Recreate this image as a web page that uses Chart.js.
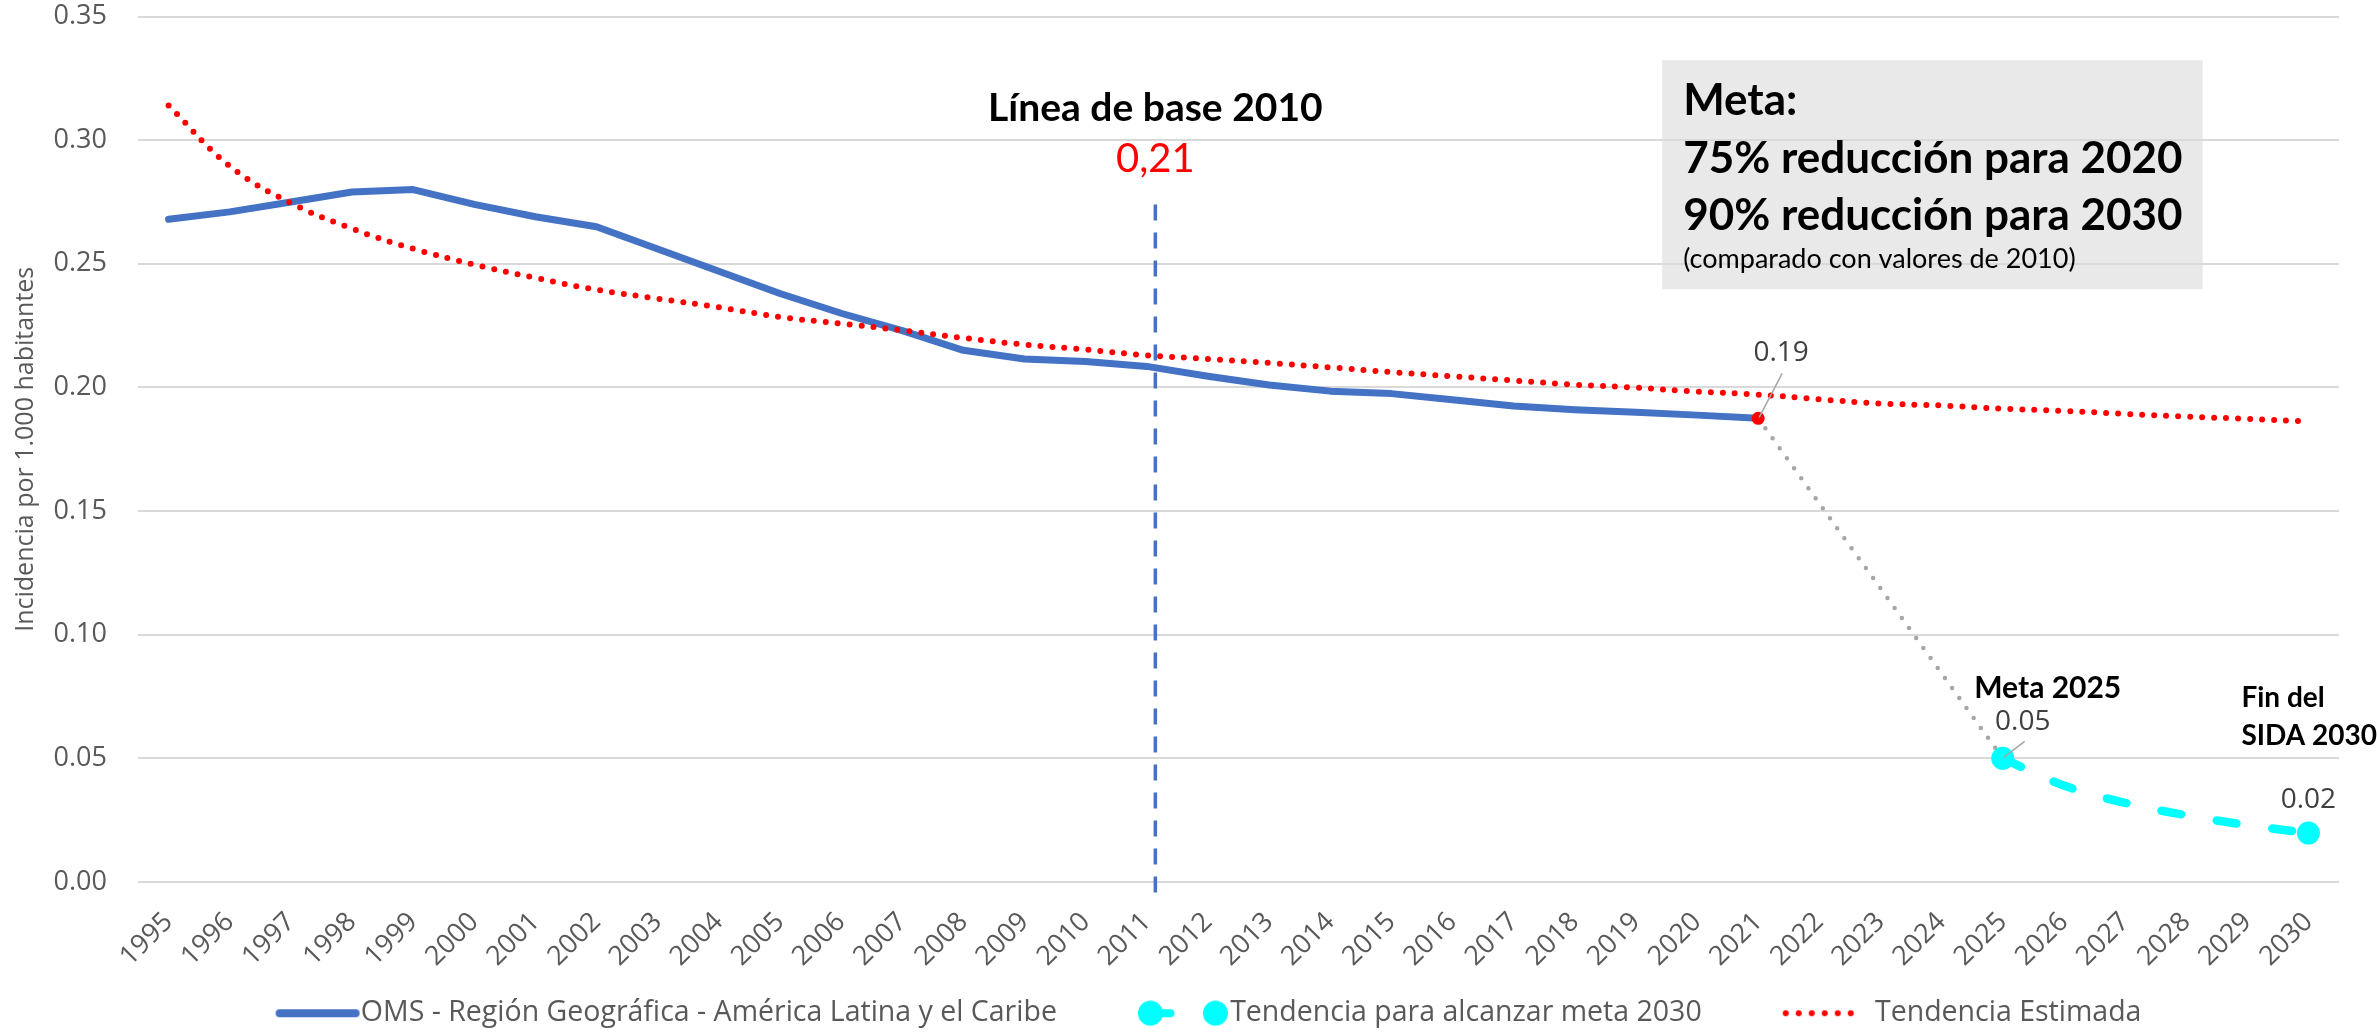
<!DOCTYPE html>
<html><head><meta charset="utf-8">
<script src="https://cdn.jsdelivr.net/npm/chart.js@4.4.1/dist/chart.umd.min.js"></script>
<style>html,body{margin:0;padding:0;background:#fff;overflow:hidden}canvas{display:block}</style>
</head><body>
<canvas id="c" width="2377" height="1034"></canvas>
<script>
// ---------- DATA ----------
const years = ['1995','1996','1997','1998','1999','2000','2001','2002','2003','2004','2005','2006',
  '2007','2008','2009','2010','2011','2012','2013','2014','2015','2016','2017','2018','2019','2020',
  '2021','2022','2023','2024','2025','2026','2027','2028','2029','2030'];

const omsLabel = 'OMS - Región Geográfica - América Latina y el Caribe';
const omsValues = [0.268, 0.271, 0.275, 0.279, 0.280, 0.274, 0.269, 0.265, 0.256, 0.247, 0.238, 0.230,
  0.223, 0.215, 0.2115, 0.2105, 0.2085, 0.2045, 0.201, 0.1985, 0.1975, 0.195, 0.1925, 0.191, 0.190, 0.1888,
  0.1875];

const targetLabel = 'Tendencia para alcanzar meta 2030';
const targetValues = [null,null,null,null,null,null,null,null,null,null,null,null,null,null,null,
  null,null,null,null,null,null,null,null,null,null,null,null,null,null,null,
  0.05, 0.039, 0.032, 0.027, 0.023, 0.0198];

const trendLabel = 'Tendencia Estimada';
const trendValues = [0.314, 0.2895, 0.2746, 0.2642, 0.2561, 0.2497, 0.2443, 0.2395, 0.2359, 0.2324,
  0.2285, 0.2258, 0.2231, 0.2200, 0.2173, 0.2153, 0.2130, 0.2115, 0.2099, 0.2081, 0.2062, 0.2045,
  0.2028, 0.2011, 0.1999, 0.1983, 0.1971, 0.1952, 0.1935, 0.1927, 0.1914, 0.1905, 0.1893, 0.1882,
  0.1873, 0.1862];

// grey bridge from last observed value to the 2025 goal
const bridgeValues = [null,null,null,null,null,null,null,null,null,null,null,null,null,null,null,
  null,null,null,null,null,null,null,null,null,null,null,
  0.1875, null, null, null, 0.05];

const yTicks = [0, 0.05, 0.10, 0.15, 0.20, 0.25, 0.30, 0.35];
const yTitle = 'Incidencia por 1.000 habitantes';

const baseLineYear = '2011';
const baseLineTitle = 'Línea de base 2010';
const baseLineValue = '0,21';
const metaLines = ['Meta:', '75% reducción para 2020', '90% reducción para 2030', '(comparado con valores de 2010)'];
const meta2025Label = 'Meta 2025';
const fin2030Label = ['Fin del', 'SIDA 2030'];

// ---------- LEGEND SYMBOLS ----------
const LEG_W = 149;            // legend box width
const LEG_C = LEG_W + 28;     // symbol canvas width (overhangs box by 14 px each side)
function makeSymbol(kind) {
  const c = document.createElement('canvas');
  c.width = LEG_C; c.height = 26;
  const g = c.getContext('2d');
  const cy = 13, C = LEG_C;
  if (kind === 'solid') {
    g.strokeStyle = '#4472C4'; g.lineWidth = 8; g.lineCap = 'round';
    g.beginPath(); g.moveTo(C - 81, cy); g.lineTo(C - 5, cy); g.stroke();
  } else if (kind === 'target') {
    const c2 = C - 14.5, c1 = c2 - 65;
    g.strokeStyle = '#00FFFF'; g.fillStyle = '#00FFFF'; g.lineWidth = 8; g.lineCap = 'round';
    g.setLineDash([20, 60]);
    g.beginPath(); g.moveTo(c1, cy); g.lineTo(c2, cy); g.stroke();
    g.setLineDash([]);
    [c1, c2].forEach(px => { g.beginPath(); g.arc(px, cy, 12.5, 0, Math.PI * 2); g.fill(); });
  } else {
    g.fillStyle = '#FF0000';
    for (let i = 0; i < 6; i++) { g.beginPath(); g.arc(C - 24 - 13 * i, cy, 3, 0, Math.PI * 2); g.fill(); }
  }
  return c;
}
const legendSymbols = [makeSymbol('solid'), makeSymbol('target'), makeSymbol('dots')];

// ---------- OVERLAY (annotations) ----------
const overlay = {
  id: 'overlay',
  beforeDraw(chart) {
    const {ctx, scales: {x, y}} = chart;
    const l = x.getPixelForValue(24.43), r = x.getPixelForValue(33.27);
    const t = y.getPixelForValue(0.3323), b = y.getPixelForValue(0.2397);
    ctx.save();
    ctx.fillStyle = '#E9E9E9';
    ctx.fillRect(l, t, r - l, b - t);
    ctx.restore();
  },
  afterDatasetsDraw(chart) {
    const {ctx, scales: {x, y}} = chart;
    const bx = x.getPixelForValue(years.indexOf(baseLineYear) + 0.14);
    ctx.save();
    ctx.strokeStyle = '#4472C4'; ctx.lineWidth = 3.5; ctx.setLineDash([16, 12]);
    ctx.beginPath(); ctx.moveTo(bx, y.getPixelForValue(0.274)); ctx.lineTo(bx, y.getPixelForValue(-0.0045)); ctx.stroke();
    ctx.restore();
  },
  afterDraw(chart) {
    const {ctx, scales: {x, y}} = chart;
    const bx = x.getPixelForValue(years.indexOf(baseLineYear) + 0.14);
    ctx.save();
    ctx.textBaseline = 'alphabetic';
    ctx.textAlign = 'center';
    ctx.fillStyle = '#000';
    ctx.font = 'bold 39px Lato';
    ctx.fillText(baseLineTitle, bx, y.getPixelForValue(0.3076));
    ctx.fillStyle = '#FF0000';
    ctx.font = '40px Lato';
    ctx.fillText(baseLineValue, bx, y.getPixelForValue(0.287));

    const l = x.getPixelForValue(24.43), t = y.getPixelForValue(0.3323);
    ctx.textAlign = 'left';
    ctx.fillStyle = '#000';
    ctx.font = 'bold 44px Lato';
    ctx.fillText(metaLines[0], l + 21, t + 55);
    ctx.fillText(metaLines[1], l + 21, t + 113);
    ctx.fillText(metaLines[2], l + 21, t + 170);
    ctx.font = '27px Lato';
    ctx.fillText(metaLines[3], l + 21, t + 208);

    const pt = (i, v) => ({px: x.getPixelForValue(i), py: y.getPixelForValue(v)});
    const i21 = years.indexOf('2021'), i25 = years.indexOf('2025'), i30 = years.indexOf('2030');
    const p21 = pt(i21, bridgeValues[i21]), p25 = pt(i25, targetValues[i25]), p30 = pt(i30, targetValues[i30]);
    ctx.strokeStyle = '#A6A6A6'; ctx.lineWidth = 1.5;
    ctx.beginPath(); ctx.moveTo(p21.px + 24, p21.py - 45); ctx.lineTo(p21.px + 1, p21.py - 1); ctx.stroke();
    ctx.beginPath(); ctx.moveTo(p25.px + 22, p25.py - 17); ctx.lineTo(p25.px + 1, p25.py - 1); ctx.stroke();

    ctx.fillStyle = '#404040';
    ctx.font = '28px "Open Sans"';
    ctx.textAlign = 'center';
    ctx.fillText(bridgeValues[i21].toFixed(2), p21.px + 23, p21.py - 57);
    ctx.fillText(targetValues[i25].toFixed(2), p25.px + 20, p25.py - 28);
    ctx.fillText(targetValues[i30].toFixed(2), p30.px, p30.py - 25);

    ctx.fillStyle = '#000';
    ctx.font = 'bold 30px Lato';
    ctx.fillText(meta2025Label, p25.px + 45, p25.py - 60);
    ctx.textAlign = 'left';
    ctx.font = 'bold 28px Lato';
    ctx.fillText(fin2030Label[0], p30.px - 67, p30.py - 126);
    ctx.fillText(fin2030Label[1], p30.px - 67, p30.py - 88);
    ctx.restore();
  }
};

// ---------- CHART ----------
new Chart(document.getElementById('c'), {
  type: 'line',
  data: {
    labels: years,
    datasets: [
      { label: omsLabel, data: omsValues, borderColor: '#4472C4', backgroundColor: '#4472C4',
        borderWidth: 7, borderCapStyle: 'round', borderJoinStyle: 'round', pointRadius: 0, tension: 0, order: 3 },
      { label: targetLabel, data: targetValues, borderColor: '#00FFFF', backgroundColor: '#00FFFF',
        borderWidth: 8.5, borderDash: [20, 36], borderCapStyle: 'round', tension: 0.4,
        pointRadius: c => (c.dataIndex === 30 || c.dataIndex === 35) ? 11.5 : 0,
        pointBorderWidth: 0, pointBackgroundColor: '#00FFFF', order: 0 },
      { label: trendLabel, data: trendValues, borderColor: '#FF0000', backgroundColor: '#FF0000',
        borderWidth: 6, borderDash: [0, 12], borderCapStyle: 'round', pointRadius: 0, tension: 0.4, order: 2 },
      { label: 'puente', data: bridgeValues, borderColor: '#A6A6A6', backgroundColor: '#A6A6A6',
        borderWidth: 4.5, borderDash: [0, 12.3], borderCapStyle: 'round', spanGaps: true, tension: 0,
        pointRadius: c => c.dataIndex === 26 ? 6.5 : 0, pointBorderWidth: 0,
        pointBackgroundColor: '#FF0000', order: 1 }
    ]
  },
  options: {
    responsive: false,
    devicePixelRatio: 1,
    animation: false,
    events: [],
    layout: { padding: { left: 0, right: 38, top: 16, bottom: 4 } },
    scales: {
      x: {
        offset: true,
        grid: { display: false },
        border: { display: false },
        ticks: { autoSkip: false, maxRotation: 45, minRotation: 45, padding: 18,
          color: '#595959', font: { family: 'Open Sans', size: 27, lineHeight: 1 } },
        afterFit: s => { s.height = 107; }
      },
      y: {
        min: 0, max: 0.35,
        afterBuildTicks: s => { s.ticks = yTicks.map(v => ({ value: v })); },
        grid: { color: '#D9D9D9', lineWidth: 2, drawTicks: true, tickLength: 28, tickColor: 'rgba(0,0,0,0)' },
        border: { display: false },
        ticks: { padding: 3, color: '#595959', font: { family: 'Open Sans', size: 27, lineHeight: 1 },
          callback: v => Number(v).toFixed(2) },
        title: { display: true, text: yTitle, color: '#595959',
          font: { family: 'Open Sans', size: 25, lineHeight: 1.2 }, padding: { top: 11, bottom: 0 } },
        afterFit: s => { s.width = 138; }
      }
    },
    plugins: {
      tooltip: { enabled: false },
      legend: {
        position: 'bottom',
        maxHeight: 41,
        labels: {
          usePointStyle: true, pointStyleWidth: LEG_W, boxHeight: 26, padding: 10,
          color: '#595959', font: { family: 'Open Sans', size: 28.5 },
          generateLabels: chart => chart.data.datasets.slice(0, 3).map((d, i) => ({
            text: d.label, pointStyle: legendSymbols[i], datasetIndex: i, hidden: false,
            fontColor: '#595959', lineWidth: 0, strokeStyle: d.borderColor, fillStyle: d.borderColor
          }))
        }
      }
    }
  },
  plugins: [overlay]
});
</script>
</body></html>
